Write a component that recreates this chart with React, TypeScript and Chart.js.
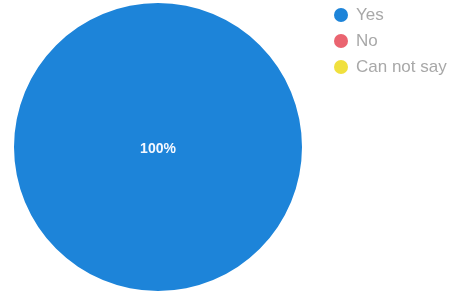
import React, { useEffect, useRef } from "react";
import { Chart, registerables } from "chart.js";

Chart.register(...registerables);

const categories = ["Yes", "No", "Can not say"];
const values = [100, 0, 0];
const colors = ["#1d84d9", "#ea6470", "#f0e03e"];

const centerLabelPlugin = {
  id: "pctLabels",
  afterDatasetsDraw(chart: any) {
    const { ctx } = chart;
    const meta = chart.getDatasetMeta(0);
    const data = chart.data.datasets[0].data as number[];
    const total = data.reduce((a, b) => a + b, 0);
    meta.data.forEach((arc: any, i: number) => {
      const v = data[i];
      if (!v) return;
      const pct = Math.round((v / total) * 100);
      let x: number, y: number;
      if (pct === 100) {
        x = arc.x;
        y = arc.y;
      } else {
        const p = arc.tooltipPosition();
        x = p.x;
        y = p.y;
      }
      ctx.save();
      ctx.fillStyle = "#f4f8ff";
      ctx.font = "bold 14px 'Liberation Sans', Arial, sans-serif";
      ctx.textAlign = "center";
      ctx.textBaseline = "middle";
      ctx.fillText(pct + "%", x, y + 2);
      ctx.restore();
    });
  },
};

export default function App() {
  const ref = useRef<HTMLCanvasElement | null>(null);
  useEffect(() => {
    if (!ref.current) return;
    const chart = new Chart(ref.current, {
      type: "pie",
      data: {
        labels: categories,
        datasets: [
          {
            data: values,
            backgroundColor: colors,
            borderWidth: 0,
          },
        ],
      },
      options: {
        animation: false,
        responsive: false,
        devicePixelRatio: 1,
        layout: { padding: { left: 12, right: 145, top: 3, bottom: 2 } },
        plugins: {
          legend: { display: false },
          tooltip: { enabled: false },
        },
      },
      plugins: [centerLabelPlugin],
    });
    return () => chart.destroy();
  }, []);

  return (
    <div
      style={{
        position: "fixed",
        left: 0,
        top: 0,
        width: 449,
        height: 293,
        background: "#ffffff",
        overflow: "hidden",
      }}
    >
      <canvas ref={ref} width={449} height={293} style={{ display: "block" }} />
      <div
        style={{
          position: "absolute",
          left: 334,
          top: 2,
          fontFamily: "'Liberation Sans', Arial, sans-serif",
          fontSize: 17,
          color: "#a8a8a8",
        }}
      >
        {categories.map((c, i) => (
          <div
            key={c}
            style={{ display: "flex", alignItems: "center", height: 26, whiteSpace: "nowrap" }}
          >
            <span
              style={{
                width: 14,
                height: 14,
                borderRadius: "50%",
                background: colors[i],
                display: "inline-block",
                marginRight: 8,
              }}
            />
            <span>{c}</span>
          </div>
        ))}
      </div>
    </div>
  );
}
